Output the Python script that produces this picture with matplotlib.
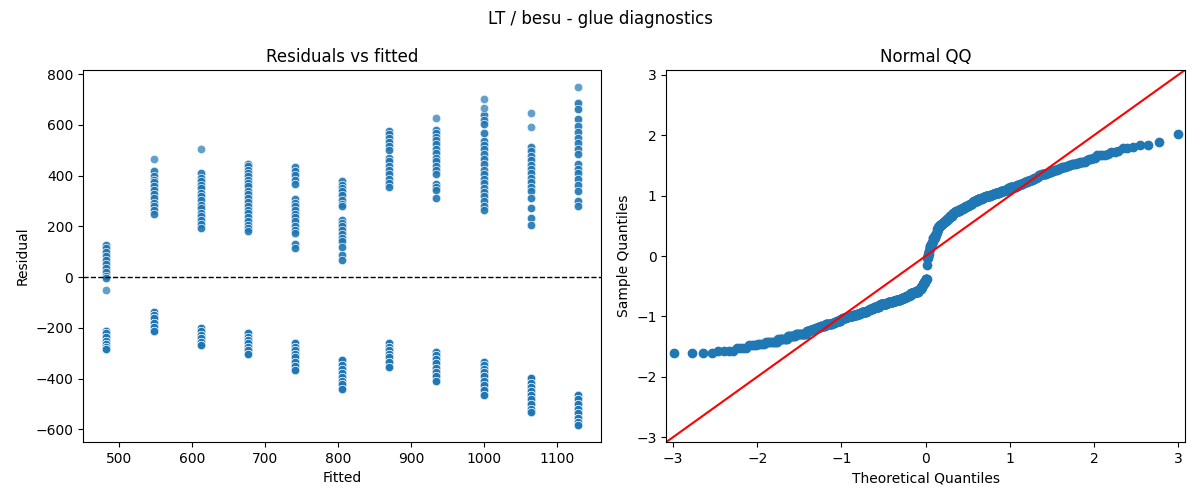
"""LT / besu glue 모델 진단 그림.

- 왼쪽: 적합값 대비 잔차 산점도 (seaborn)
- 오른쪽: 표준화 잔차의 정규 QQ 플롯 (45도 기준선)
"""

from statistics import NormalDist

import matplotlib

matplotlib.use("Agg")
import matplotlib.pyplot as plt
import numpy as np
import seaborn as sns

# 적합값 (11개 수준)
FITTED = [483.0, 547.5, 612.0, 676.5, 741.0, 805.5, 870.0, 934.5, 999.0, 1063.5, 1128.0]

# 양의 잔차 (겹쳐 찍힌 점은 POS_REPEAT 만큼 반복)
POS_RESID = [
    [128, 115, 98, 82, 68, 53, 36, 20, 5, -4],
    [420, 398, 385, 374, 359, 343, 326, 312, 293, 279, 264, 250],
    [411, 392, 378, 365, 352, 332, 319, 306, 286, 273, 253, 240, 227, 211, 194],
    [448, 438, 424, 411, 398, 385, 372, 359, 339, 326, 312, 295, 279, 266, 253,
     237, 220, 207, 194, 181],
    [435, 418, 401, 385, 369, 308, 293, 279, 266, 250, 237, 220, 203, 187, 174,
     132, 115],
    [378, 365, 352, 339, 322, 306, 290, 279, 227, 214, 200, 187, 171, 154, 141,
     119, 88, 69],
    [576, 563, 550, 533, 517, 501, 471, 457, 440, 424, 405, 388, 372, 356],
    [580, 567, 554, 540, 523, 506, 490, 471, 457, 440, 424, 405, 369, 356, 343, 312],
    [638, 620, 603, 567, 537, 520, 504, 484, 464, 445, 424, 405, 388, 372, 353,
     336, 320, 300, 280, 264],
    [514, 497, 477, 461, 444, 427, 409, 392, 375, 356, 339, 312, 273, 233, 207],
    [685, 661, 624, 596, 572, 550, 530, 506, 484, 448, 427, 411, 388, 365, 339,
     299, 279],
]
POS_REPEAT = [2, 2, 2, 2, 2, 2, 2, 2, 2, 2, 2]

# 홀로 떨어진 점 (한 번씩만)
POS_SINGLE = [
    [-50],
    [467],
    [507],
    [],
    [],
    [],
    [],
    [629],
    [701, 668],
    [646, 593],
    [750],
]

# 음의 잔차 (밀집 구간, NEG_REPEAT 만큼 반복)
NEG_RESID = [
    [-211, -221, -235, -250, -264, -277, -285],
    [-136, -149, -162, -182, -195, -211],
    [-199, -212, -228, -241, -254, -268],
    [-221, -235, -248, -261, -274, -287, -301],
    [-261, -274, -287, -301, -316, -334, -351, -366],
    [-327, -347, -360, -377, -393, -409, -422, -439],
    [-261, -274, -287, -301, -316, -334, -353],
    [-294, -307, -324, -340, -356, -373, -390, -409],
    [-334, -347, -360, -373, -390, -409, -426, -443, -465],
    [-399, -417, -432, -448, -465, -482, -498, -518, -531],
    [-465, -482, -498, -518, -535, -554, -571, -583],
]
NEG_REPEAT = [5, 5, 5, 5, 4, 4, 5, 4, 4, 4, 4]

QQ_LIM = (-3.08, 3.08)


def build_residuals() -> tuple[np.ndarray, np.ndarray]:
    xs: list[float] = []
    ys: list[float] = []
    groups = zip(FITTED, POS_RESID, POS_REPEAT, POS_SINGLE, NEG_RESID, NEG_REPEAT)
    for fit, pos, pos_rep, single, neg, neg_rep in groups:
        values = list(np.repeat(pos, pos_rep)) + list(single) + list(np.repeat(neg, neg_rep))
        xs.extend([fit] * len(values))
        ys.extend(values)
    return np.array(xs, dtype=float), np.array(ys, dtype=float)


def qq_points(resid: np.ndarray) -> tuple[np.ndarray, np.ndarray]:
    sample = np.sort((resid - resid.mean()) / resid.std())
    n = len(sample)
    dist = NormalDist()
    theo = np.array([dist.inv_cdf(i / (n + 1)) for i in range(1, n + 1)])
    return theo, sample


def main() -> None:
    fitted, resid = build_residuals()
    theo, sample = qq_points(resid)

    fig, (ax_res, ax_qq) = plt.subplots(1, 2, figsize=(12, 5))

    sns.scatterplot(x=fitted, y=resid, alpha=0.7, ax=ax_res)
    ax_res.axhline(0, color="black", linestyle="--", linewidth=1)
    ax_res.set_title("Residuals vs fitted")
    ax_res.set_xlabel("Fitted")
    ax_res.set_ylabel("Residual")

    ax_qq.plot(theo, sample, marker="o", linestyle="none", color="C0", markersize=6)
    ax_qq.plot(QQ_LIM, QQ_LIM, "r-")
    ax_qq.set_xlim(QQ_LIM)
    ax_qq.set_ylim(QQ_LIM)
    ax_qq.set_title("Normal QQ")
    ax_qq.set_xlabel("Theoretical Quantiles")
    ax_qq.set_ylabel("Sample Quantiles")

    fig.suptitle("LT / besu - glue diagnostics")
    fig.subplots_adjust(left=0.069, right=0.9875, bottom=0.116, top=0.86, wspace=0.125)
    fig.savefig("out.png", dpi=100)


if __name__ == "__main__":
    main()
